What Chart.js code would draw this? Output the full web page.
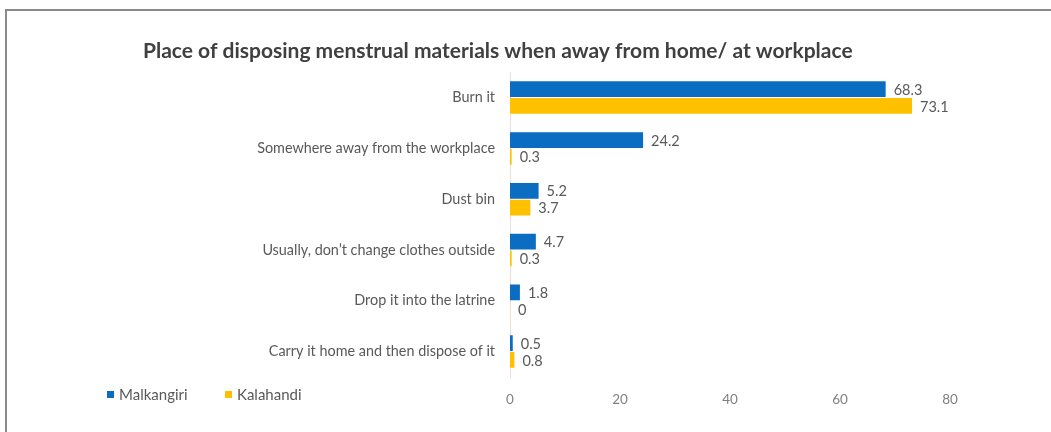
<!DOCTYPE html>
<html>
<head>
<meta charset="utf-8">
<script src="https://cdn.jsdelivr.net/npm/chart.js@4/dist/chart.umd.min.js"></script>
<style>
  html, body { margin: 0; padding: 0; background: #fff; }
  .wrap { position: relative; width: 1051px; height: 432px; overflow: hidden; }
  .frame {
    position: absolute; left: 5px; top: 9px; right: -10px; bottom: -10px;
    border-top: 2px solid #8a8a8a; border-left: 2px solid #8a8a8a;
  }
  canvas { position: absolute; left: 0; top: 0; }
</style>
</head>
<body>
<div class="wrap">
  <div class="frame"></div>
  <canvas id="disposalChart" width="1051" height="432"></canvas>
</div>
<script>
// Places of disposal (share of respondents, %)
const places = [
    'Burn it',
    'Somewhere away from the workplace',
    'Dust bin',
    'Usually, don\u2019t change clothes outside',
    'Drop it into the latrine',
    'Carry it home and then dispose of it'
];
const malkangiri = [68.3, 24.2, 5.2, 4.7, 1.8, 0.5];
const kalahandi = [73.1, 0.3, 3.7, 0.3, 0, 0.8];
const xTicks = [0, 20, 40, 60, 80];

const BLUE = '#0A6DC2';
const YELLOW = '#FFC000';
const FONT = 'Lato, "Open Sans", sans-serif';

// Value label next to the end of each bar
const valueLabels = {
    id: 'valueLabels',
    afterDatasetsDraw(chart) {
        const ctx = chart.ctx;
        ctx.save();
        ctx.font = '14.5px ' + FONT;
        ctx.fillStyle = '#595959';
        ctx.textAlign = 'left';
        ctx.textBaseline = 'middle';
        chart.data.datasets.forEach((ds, i) => {
            chart.getDatasetMeta(i).data.forEach((bar, j) => {
                ctx.fillText(String(ds.data[j]), bar.x + 8, bar.y + 1);
            });
        });
        ctx.restore();
    }
};

// Legend sitting in the lower left corner, on the tick row
const cornerLegend = {
    id: 'cornerLegend',
    afterDraw(chart) {
        const ctx = chart.ctx;
        ctx.save();
        ctx.font = '15px ' + FONT;
        ctx.textBaseline = 'middle';
        let x = 107;
        const y = 395;
        chart.data.datasets.forEach(ds => {
            ctx.fillStyle = ds.backgroundColor;
            ctx.fillRect(x, y - 4, 7, 7);
            ctx.fillStyle = '#595959';
            ctx.fillText(ds.label, x + 12, y);
            x += 118;
        });
        ctx.restore();
    }
};

new Chart(document.getElementById('disposalChart'), {
    type: 'bar',
    data: {
        labels: places,
        datasets: [
            { label: 'Malkangiri', data: malkangiri, backgroundColor: BLUE },
            { label: 'Kalahandi', data: kalahandi, backgroundColor: YELLOW }
        ]
    },
    options: {
        indexAxis: 'y',
        responsive: false,
        animation: false,
        events: [],
        categoryPercentage: 0.66,
        barPercentage: 0.94,
        layout: { padding: { left: 143, right: 101, top: 39, bottom: 20 } },
        plugins: {
            legend: { display: false },
            tooltip: { enabled: false },
            title: {
                display: true,
                align: 'start',
                text: 'Place of disposing menstrual materials when away from home/ at workplace',
                color: '#404040',
                font: { family: FONT, size: 21, weight: 'bold', lineHeight: 1.2 },
                padding: { top: 0, bottom: 8 }
            }
        },
        scales: {
            x: {
                min: 0,
                max: 80,
                afterBuildTicks(scale) {
                    scale.ticks = xTicks.map(v => ({ value: v }));
                },
                afterFit(scale) { scale.height = 35; },
                grid: { display: false, drawTicks: false },
                border: { display: false },
                ticks: {
                    padding: 15,
                    color: '#7f7f7f',
                    font: { family: FONT, size: 13.5 }
                }
            },
            y: {
                afterFit(scale) { scale.width = 367; },
                grid: { display: false, drawTicks: false },
                border: { display: true, color: '#EEDFD6', width: 1 },
                ticks: {
                    padding: 15,
                    color: '#595959',
                    font: { family: FONT, size: 14.4 }
                }
            }
        }
    },
    plugins: [valueLabels, cornerLegend]
});
</script>
</body>
</html>
